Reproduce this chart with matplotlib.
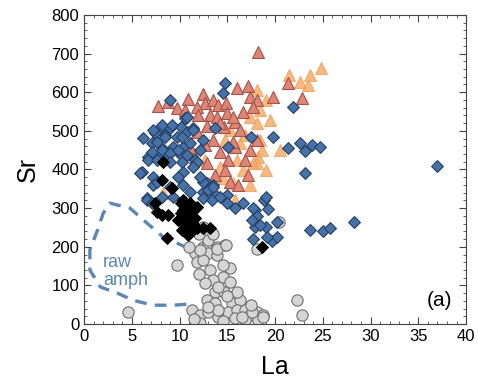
import matplotlib
matplotlib.use("Agg")
import matplotlib.pyplot as plt
from matplotlib.ticker import MultipleLocator

plt.rcParams['font.family'] = ['Liberation Sans', 'DejaVu Sans']

# La (ppm), Sr (ppm) by sample group
blue_la = [14.8, 14.5, 9.0, 10.7, 13.7, 17.5, 19.8, 6.2, 15.1, 8.0, 9.0, 10.1, 7.4, 8.5, 9.7,
           10.8, 11.4, 7.1, 8.2, 9.3, 10.4, 6.7, 7.7, 8.8, 10.1, 11.6, 12.4, 21.9, 21.4, 22.6,
           23.1, 23.9, 24.7, 37.0, 23.1, 18.8, 19.3, 17.9, 18.1, 17.9, 19.1, 20.2, 17.7, 19.7,
           20.2, 23.7, 25.0, 25.7, 28.3, 12.1, 12.9, 13.5, 12.5, 14.6, 19.0, 7.2, 8.2, 9.2,
           10.6, 11.4, 7.6, 8.5, 10.3, 11.1, 7.1, 8.2, 9.0, 9.8, 10.8, 6.7, 7.6, 9.0, 10.3,
           6.1, 7.2, 10.4, 11.8, 7.2, 10.4, 11.1, 12.4, 13.0, 12.4, 13.7, 15.0, 9.3, 6.6, 5.9,
           7.6, 6.6, 7.1, 8.2, 9.0, 9.8, 11.4, 12.1, 13.5, 13.4, 14.2, 15.0, 15.8, 16.6, 17.7,
           17.6, 18.4, 19.2, 10.8]
blue_sr = [624, 598, 580, 533, 507, 484, 484, 481, 458, 510, 507, 510, 494, 489, 484,
           497, 507, 468, 456, 458, 458, 432, 432, 437, 437, 425, 476, 562, 456, 468,
           448, 463, 458, 409, 391, 321, 298, 295, 280, 251, 251, 264, 220, 215,
           225, 243, 241, 249, 264, 450, 365, 360, 342, 326, 329, 502, 515, 515,
           533, 502, 471, 484, 484, 469, 445, 450, 443, 450, 437, 425, 425, 419, 419,
           394, 381, 394, 419, 360, 360, 342, 368, 347, 326, 334, 334, 329, 326, 391,
           368, 321, 313, 329, 355, 381, 406, 381, 355, 321, 329, 313, 300, 313, 300,
           269, 256, 225, 536]

black_la = [8.3, 8.2, 9.2, 7.4, 8.8, 7.6, 10.1, 10.8, 10.3, 11.1, 11.8, 12.5, 13.2, 8.7,
            10.8, 11.4, 10.1, 18.6, 8.2, 10.4, 10.9, 11.3, 10.6, 11.4, 11.1, 11.8, 10.6,
            9.8, 11.6, 10.9, 10.4]
black_sr = [419, 373, 352, 313, 282, 290, 287, 269, 243, 251, 249, 249, 249, 223,
            303, 295, 313, 199, 282, 295, 282, 264, 256, 243, 313, 303, 282,
            269, 274, 230, 321]

gray_la = [9.7, 11.6, 12.4, 13.0, 13.9, 14.8, 13.0, 13.9, 11.8, 12.5, 13.2, 14.5, 15.3, 13.5,
           15.3, 12.7, 13.7, 14.6, 12.9, 13.7, 15.5, 16.3, 11.3, 12.1, 13.0, 14.0, 15.1, 16.0,
           16.9, 17.4, 18.1, 18.7, 15.8, 16.9, 18.2, 14.0, 12.1, 20.4, 18.1, 22.3, 22.8, 18.7,
           17.6, 4.6, 13.0, 12.1, 13.9, 14.9, 11.0, 12.0, 13.5, 14.5, 12.0, 14.0, 16.0, 15.0,
           17.5, 13.0, 16.5, 11.5, 14.5, 12.5]
gray_sr = [153, 184, 199, 210, 199, 205, 184, 179, 161, 166, 140, 122, 145, 114,
           109, 106, 83, 83, 62, 54, 54, 62, 36, 23, 31, 18, 31, 36,
           36, 23, 31, 23, 16, 10, 10, 36, 3, 264, 194, 62, 23, 18,
           31, 31, 217, 192, 194, 205, 200, 232, 232, 152, 130, 95, 82, 72,
           50, 45, 18, 14, 8, 250]

salmon_la = [18.2, 7.7, 9.7, 10.9, 12.5, 12.7, 13.5, 14.0, 14.9, 16.0, 17.2, 17.4, 18.1, 19.8,
             17.7, 11.8, 11.9, 13.2, 13.9, 15.0, 15.8, 14.6, 12.9, 13.5, 14.2, 15.8, 11.8,
             11.6, 11.1, 21.4, 22.8, 18.1, 17.2, 15.3, 16.1, 12.9, 15.6, 14.2, 15.6, 16.6,
             16.3, 12.7, 15.1, 16.9, 10.6, 8.8, 14.8, 13.7, 17.4]
salmon_sr = [704, 564, 559, 583, 595, 572, 580, 567, 572, 611, 616, 588, 580, 588,
             562, 562, 541, 541, 536, 546, 523, 510, 513, 476, 445, 458, 497,
             432, 458, 624, 585, 476, 386, 368, 360, 417, 471, 520, 536, 549,
             502, 463, 425, 425, 554, 575, 399, 386, 450]

orange_la = [24.8, 21.5, 22.6, 23.4, 18.1, 18.4, 18.4, 18.1, 17.4, 18.1, 16.3, 18.2, 17.7, 16.6,
             14.5, 15.6, 14.2, 16.0, 19.0, 19.5, 16.9, 15.3, 19.0, 17.4, 15.8, 13.7, 20.5,
             18.6, 23.7, 14.8, 12.7, 8.3]
orange_sr = [663, 645, 627, 619, 606, 554, 476, 417, 536, 520, 469, 432, 417, 399,
             378, 365, 406, 425, 580, 528, 489, 502, 399, 360, 321, 347, 450,
             450, 645, 476, 425, 339]

# outline of raw amphibole compositions
amph_la = [10.8, 9.7, 8.3, 6.6, 4.8, 2.7, 2.0, 1.4, 0.6, 0.6, 1.7, 3.5, 5.1, 7.2, 9.3, 11.1]
amph_sr = [197, 210, 225, 261, 300, 313, 287, 243, 192, 140, 96, 80, 62, 49, 49, 52]

fig = plt.figure(figsize=(4.78, 3.91), dpi=100)
ax = fig.add_axes([0.176, 0.171, 0.799, 0.791])

ax.plot(amph_la, amph_sr, color='#5B86B5', lw=2.4, dashes=(3.5, 2.5), zorder=1)
ax.text(2.0, 160, 'raw', color='#5B86B5', fontsize=13, va='center', ha='left')
ax.text(2.0, 113, 'amph', color='#5B86B5', fontsize=13, va='center', ha='left')

ax.scatter(gray_la, gray_sr, marker='o', s=66, c='#D6D6D6', edgecolors='#6E6E6E',
           linewidths=0.8, zorder=2)
ax.scatter(orange_la, orange_sr, marker='^', s=74, c='#F6A85E', edgecolors='#EDA063',
           linewidths=0.8, alpha=0.8, zorder=3)
ax.scatter(salmon_la, salmon_sr, marker='^', s=74, c='#DE8575', edgecolors='#A4524B',
           linewidths=0.8, zorder=4)
ax.scatter(blue_la, blue_sr, marker='D', s=36, c='#4672A8', edgecolors='#263F63',
           linewidths=0.8, zorder=5)
ax.scatter(black_la, black_sr, marker='D', s=36, c='#000000', edgecolors='#000000',
           linewidths=0.8, zorder=6)

ax.set_xlim(0, 40)
ax.set_ylim(0, 800)
ax.xaxis.set_major_locator(MultipleLocator(5))
ax.xaxis.set_minor_locator(MultipleLocator(1))
ax.yaxis.set_major_locator(MultipleLocator(100))
ax.yaxis.set_minor_locator(MultipleLocator(20))
ax.tick_params(which='both', direction='in', top=True, right=True, labelsize=12, color='#444444')
ax.tick_params(which='major', length=5, width=0.8)
ax.tick_params(which='minor', length=2.5, width=0.6)
for sp in ax.spines.values():
    sp.set_linewidth(0.8)
    sp.set_color('#444444')

ax.set_xlabel('La', fontsize=18, labelpad=8)
ax.set_ylabel('Sr', fontsize=18, labelpad=8)
ax.text(0.965, 0.075, '(a)', transform=ax.transAxes, fontsize=15, ha='right', va='center')

fig.savefig('out.png', dpi=100)
